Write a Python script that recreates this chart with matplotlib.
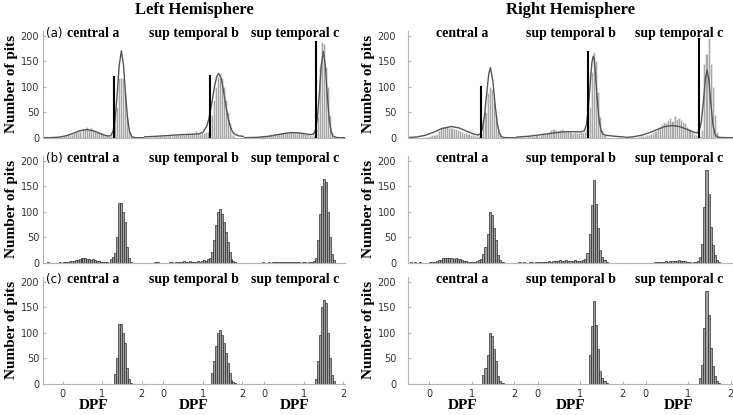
import numpy as np
import matplotlib
matplotlib.use("Agg")
import matplotlib.pyplot as plt

# panel names, row tags
regions = ["central a", "sup temporal b", "sup temporal c"]
row_tags = ["(a)", "(b)", "(c)"]
bin_w = 0.05

# ---- Left hemisphere ----
# row (a): all pits (left edge of first bin, counts)
lh_all_start = [-0.2, -0.4, -0.3]
lh_all_counts = [
    [1, 1, 2, 2, 3, 4, 5, 6, 8, 9, 11, 12, 14, 15, 17, 18, 21, 17, 19, 16,
     15, 13, 11, 9, 7, 6, 4, 3, 3, 5, 40, 60, 118, 118, 117, 88, 40, 12, 3],
    [2, 1, 2, 3, 2, 3, 3, 4, 3, 4, 4, 5, 4, 5, 6, 5, 6, 7, 6, 7,
     8, 7, 9, 8, 13, 9, 8, 10, 9, 11, 12,
     20, 45, 75, 100, 120, 125, 118, 100, 75, 50, 28, 12, 5, 2],
    [1, 1, 2, 2, 3, 3, 4, 4, 5, 5, 6, 7, 7, 8, 9, 10, 11, 12, 10, 13,
     11, 12, 10, 11, 9, 12, 8, 7, 6, 5, 4, 5,
     8, 40, 140, 188, 185, 140, 100, 45, 12, 3],
]
# mixture fit
lh_fit_x = [
    [-0.5, -0.3, -0.1, 0.1, 0.3, 0.45, 0.6, 0.75, 0.9, 1.05, 1.15, 1.22, 1.28,
     1.33, 1.38, 1.43, 1.485, 1.54, 1.59, 1.64, 1.69, 1.75, 1.82, 1.9, 2.05],
    [-0.5, -0.2, 0.1, 0.4, 0.7, 0.9, 1.0, 1.1, 1.15, 1.2, 1.25, 1.3, 1.35,
     1.4, 1.45, 1.5, 1.55, 1.6, 1.65, 1.7, 1.75, 1.8, 1.9, 2.05],
    [-0.5, -0.2, 0.1, 0.4, 0.6, 0.75, 0.9, 1.05, 1.15, 1.25, 1.3, 1.35, 1.4,
     1.45, 1.5, 1.55, 1.6, 1.65, 1.7, 1.75, 1.85, 2.05],
]
lh_fit_y = [
    [0, 0.2, 1.0, 4.0, 9.7, 14.1, 16.0, 14.1, 9.7, 5.2, 3.2, 4.1, 14.0,
     39.7, 87.1, 142, 171, 142, 86.6, 38.9, 12.8, 2.2, 0.2, 0, 0],
    [1.5, 2.7, 4.2, 5.8, 6.8, 7.5, 10.4, 23.2, 36.9, 56.3, 79.8, 103.1, 120.5,
     126.8, 120.0, 102.2, 78.4, 54.6, 34.7, 20.6, 12.0, 7.2, 3.7, 2.5],
    [0.1, 0.6, 2.7, 6.8, 9.3, 10.0, 9.3, 7.5, 6.2, 6.8, 14.4, 38.6, 86.9,
     143.5, 169.7, 142.7, 85.2, 36.2, 11.1, 2.6, 0.2, 0],
]
lh_thr = [1.29, 1.19, 1.32]
lh_thr_h = [120, 121, 188]
# row (b): selected pits
lh_sel_start = [-0.4, -0.25, -0.05]
lh_sel_counts = [
    [1, 0, 0, 0, 0, 0, 1, 0, 1, 1, 2, 3, 3, 4, 5, 6, 7, 9, 10, 9,
     8, 8, 6, 7, 5, 4, 3, 2, 2, 1, 1, 0, 8, 12, 20, 50, 117, 118, 100, 80,
     30, 10, 2],
    [1, 1, 1, 0, 0, 0, 0, 0, 1, 1, 0, 1, 2, 1, 2, 3, 2, 2, 3, 2,
     2, 1, 3, 2, 3, 6, 4, 7, 10, 22, 45, 75, 100, 105, 95, 80, 60, 40, 22, 8,
     3, 1],
    [1, 0, 0, 1, 0, 1, 2, 2, 2, 1, 2, 2, 1, 2, 1, 1, 2, 1, 1, 0,
     1, 1, 0, 1, 1, 2, 3, 10, 45, 95, 150, 165, 158, 100, 50, 18, 5],
]

# ---- Right hemisphere ----
rh_all_start = [-0.1, -0.45, -0.2]
rh_all_counts = [
    [1, 2, 3, 5, 6, 8, 14, 20, 22, 21, 22, 19, 20, 17, 17, 15, 14, 12, 10, 9,
     7, 6, 5, 4, 3, 3, 5, 35, 50, 88, 100, 95, 70, 40, 15, 5],
    [2, 1, 2, 2, 3, 3, 4, 3, 5, 4, 6, 7, 8, 10, 12, 15, 17, 16, 14, 15,
     17, 13, 12, 14, 11, 10, 11, 9, 10, 12, 11,
     12, 25, 60, 130, 168, 150, 90, 40, 15, 5],
    [2, 3, 3, 4, 5, 6, 8, 10, 14, 18, 22, 26, 30, 28, 35, 38, 33, 43, 36, 38,
     35, 30, 28, 22, 18, 12, 8, 5, 3, 4,
     15, 145, 165, 196, 145, 100, 45, 12, 3],
]
rh_fit_x = [
    [-0.5, -0.3, -0.1, 0.1, 0.3, 0.52, 0.7, 0.9, 1.05, 1.15, 1.2, 1.25, 1.3,
     1.35, 1.4, 1.44, 1.5, 1.55, 1.6, 1.65, 1.7, 1.75, 1.8, 1.9, 2.05],
    [-0.5, -0.2, 0.1, 0.4, 0.6, 0.8, 1.0, 1.1, 1.15, 1.2, 1.25, 1.28, 1.31,
     1.33, 1.35, 1.4, 1.45, 1.5, 1.55, 1.6, 1.7, 1.8, 1.9, 2.05],
    [-0.5, -0.3, -0.1, 0.1, 0.3, 0.45, 0.62, 0.8, 0.95, 1.1, 1.2, 1.25, 1.3,
     1.35, 1.4, 1.44, 1.48, 1.53, 1.58, 1.63, 1.68, 1.75, 1.85, 2.05],
]
rh_fit_y = [
    [0.3, 1.4, 4.6, 10.7, 18.1, 22.0, 19.3, 12.2, 7.0, 5.2, 7.2, 17.2, 42.6,
     84.4, 125.1, 137.8, 110.2, 65.3, 28.5, 9.2, 2.2, 0.4, 0.1, 0, 0],
    [1.1, 3.0, 6.1, 9.6, 11.4, 12.0, 11.4, 13.6, 25.7, 61.4, 119.5, 148.9, 160.4,
     155.0, 139.7, 81.3, 33.3, 12.2, 6.4, 4.9, 3.9, 3.0, 2.2, 1.4],
    [0.5, 1.7, 4.8, 10.3, 17.4, 21.9, 24.0, 21.7, 17.1, 11.7, 9.2, 12.2, 28.5,
     67.8, 116.3, 132.9, 115.1, 65.1, 24.1, 6.3, 1.5, 0.4, 0.2, 0],
]
rh_thr = [1.23, 1.18, 1.26]
rh_thr_h = [100, 169, 195]
rh_sel_start = [-0.45, -0.45, 0.2]
rh_sel_counts = [
    [1, 0, 1, 0, 1, 0, 0, 0, 0, 1, 2, 2, 3, 5, 6, 9, 10, 10, 9, 10,
     8, 9, 7, 8, 5, 4, 3, 2, 2, 2, 1, 3, 5, 8, 18, 30, 57, 100, 93, 68,
     45, 15, 5, 2],
    [1, 0, 1, 0, 0, 1, 1, 0, 1, 1, 2, 1, 2, 2, 3, 2, 3, 4, 3, 5,
     4, 3, 5, 4, 3, 4, 5, 3, 4, 3, 5, 8, 20, 57, 113, 162, 115, 68, 25, 12,
     5, 2],
    [1, 2, 1, 2, 2, 3, 2, 3, 4, 3, 4, 5, 4, 3, 4, 2, 1, 0, 1, 2,
     3, 12, 37, 110, 183, 135, 70, 35, 15, 5, 2],
]

hemis = [
    dict(title="Left Hemisphere", x0=43, w=100.67, ypad=2.8,
         all_start=lh_all_start, all_counts=lh_all_counts,
         fit_x=lh_fit_x, fit_y=lh_fit_y, thr=lh_thr, thr_h=lh_thr_h,
         sel_start=lh_sel_start, sel_counts=lh_sel_counts, ylab_x=12),
    dict(title="Right Hemisphere", x0=408, w=108.33, ypad=8.5,
         all_start=rh_all_start, all_counts=rh_all_counts,
         fit_x=rh_fit_x, fit_y=rh_fit_y, thr=rh_thr, thr_h=rh_thr_h,
         sel_start=rh_sel_start, sel_counts=rh_sel_counts, ylab_x=368),
]

W, H = 733, 415
row_tops = [31, 156, 277]
row_h = 106.7
serif = "Liberation Serif"
spine_c = "#b4b4b4"
text_c = "#333333"

fig = plt.figure(figsize=(W / 100, H / 100), dpi=100)


def rect(x, top, w, h):
    return [x / W, 1 - (top + h) / H, w / W, h / H]


def draw_bars(ax, start, counts, face, edge, lw, thr=None):
    left = start + bin_w * np.arange(len(counts))
    h = np.array(counts, dtype=float)
    if thr is not None:
        keep = left + bin_w / 2 >= thr
        left, h = left[keep], h[keep]
    ax.bar(left, h, width=bin_w, align="edge", color=face,
           edgecolor=edge, linewidth=lw)


for hm in hemis:
    fig.text((hm["x0"] + 1.5 * hm["w"]) / W, 1 - 14 / H, hm["title"],
             ha="center", va="baseline", fontsize=12, fontweight="bold",
             family=serif)
    for r in range(3):
        top = row_tops[r]
        fig.text(hm["ylab_x"] / W, 1 - (top + row_h / 2) / H, "Number of pits",
                 rotation=90, ha="center", va="center", fontsize=11,
                 fontweight="bold", family=serif)
        for k in range(3):
            ax = fig.add_axes(rect(hm["x0"] + k * hm["w"], top, hm["w"], row_h))
            if r == 0:
                draw_bars(ax, hm["all_start"][k], hm["all_counts"][k],
                          "#a9a9a9", "#eeeeee", 0.4)
                ax.plot(hm["fit_x"][k], hm["fit_y"][k], color="#555555", lw=1.0)
                ax.plot([hm["thr"][k], hm["thr"][k]], [0, hm["thr_h"][k]],
                        color="black", lw=1.5)
            elif r == 1:
                draw_bars(ax, hm["sel_start"][k], hm["sel_counts"][k],
                          "#a0a0a0", "#2e2e2e", 0.5)
            else:
                draw_bars(ax, hm["sel_start"][k], hm["sel_counts"][k],
                          "#a0a0a0", "#2e2e2e", 0.5, thr=hm["thr"][k])

            ax.set_xlim(-0.5, 2.05)
            ax.set_ylim(0, 210)
            ax.patch.set_alpha(0)
            for s in ["top", "right"]:
                ax.spines[s].set_visible(False)
            ax.spines["bottom"].set_color(spine_c)
            ax.spines["bottom"].set_linewidth(0.8)
            if k == 0:
                ax.spines["left"].set_color(spine_c)
                ax.spines["left"].set_linewidth(0.8)
                ax.set_yticks([0, 50, 100, 150, 200])
                ax.tick_params(axis="y", direction="in", length=2,
                               color=spine_c, labelsize=7, labelcolor=text_c,
                               pad=hm["ypad"])
            else:
                ax.spines["left"].set_visible(False)
                ax.set_yticks([])
            if r == 2:
                ax.set_xticks([0, 1, 2])
                ax.tick_params(axis="x", direction="in", length=2,
                               color=spine_c, labelsize=7, labelcolor=text_c,
                               pad=4)
                fig.text((hm["x0"] + (k + 0.5) * hm["w"]) / W, 1 - 409 / H,
                         "DPF", ha="center", va="baseline", fontsize=11,
                         fontweight="bold", family=serif)
            else:
                ax.set_xticks([])

            ax.text(0.5, 0.94, regions[k], transform=ax.transAxes,
                    ha="center", va="baseline", fontsize=10,
                    fontweight="bold", family=serif)
            if k == 0 and hm["x0"] < 100:
                ax.text(0.03, 0.94, row_tags[r], transform=ax.transAxes,
                        ha="left", va="baseline", fontsize=8.5,
                        family="DejaVu Sans")

fig.savefig("out.png", dpi=100)
